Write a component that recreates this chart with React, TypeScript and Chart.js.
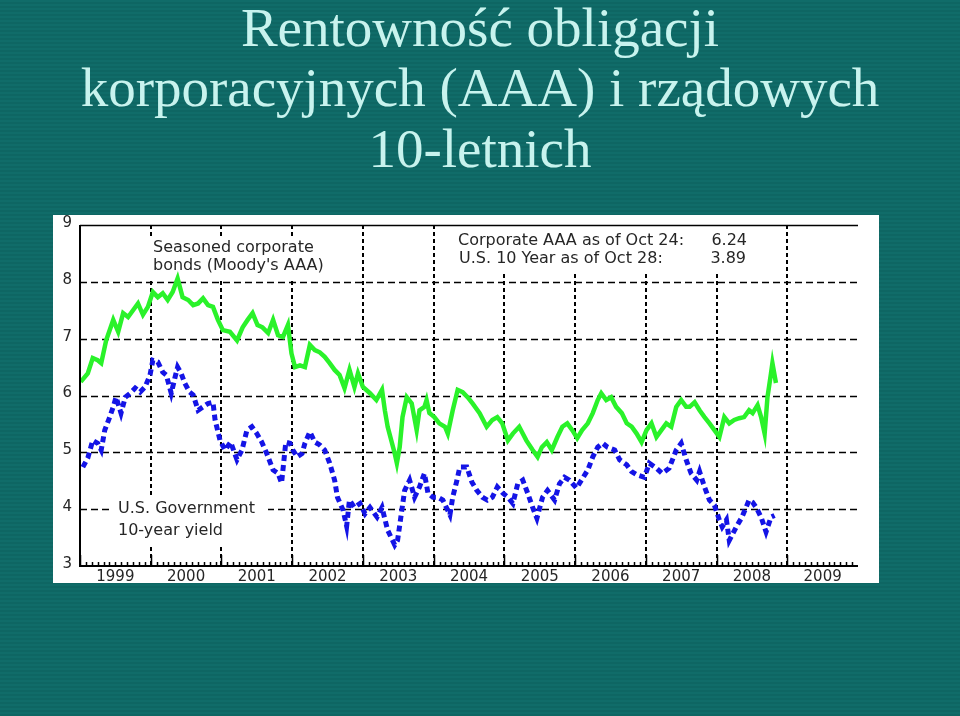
import React, { useEffect, useRef } from "react";
import { Chart, registerables } from "chart.js";

Chart.register(...registerables);

// ---- Text ----
const titleLines = ["Rentowność obligacji", "korporacyjnych (AAA) i rządowych", "10-letnich"];
const noteCorporate = ["Seasoned corporate", "bonds (Moody's AAA)"];
const noteGovernment = ["U.S. Government", "10-year yield"];
const noteLatestLabels = ["Corporate AAA as of Oct 24:", "U.S. 10 Year as of Oct 28:"];
const noteLatestValues = ["6.24", "3.89"];

// ---- Axes ----
const xYears = [1999, 2000, 2001, 2002, 2003, 2004, 2005, 2006, 2007, 2008, 2009];
const xMin = 1999;
const xMax = 2010;
const yTicks = [3, 4, 5, 6, 7, 8, 9];

// ---- Corporate AAA (Moody's), decimal year / percent ----
const aaaDates = [
  1999.01, 1999.11, 1999.18, 1999.25, 1999.3, 1999.37, 1999.47, 1999.54, 1999.61, 1999.68, 1999.75, 1999.82, 1999.89, 1999.96,
  2000.03, 2000.1, 2000.17, 2000.24, 2000.31, 2000.38, 2000.45, 2000.53, 2000.6, 2000.67, 2000.74, 2000.81, 2000.88, 2000.95,
  2001.02, 2001.12, 2001.22, 2001.3, 2001.37, 2001.44, 2001.51, 2001.58, 2001.66, 2001.73, 2001.8, 2001.87, 2001.94, 2001.99,
  2002.04, 2002.11, 2002.18, 2002.25, 2002.32, 2002.39, 2002.46, 2002.53, 2002.6, 2002.67, 2002.74, 2002.81, 2002.88, 2002.93, 2003.0,
  2003.1, 2003.19, 2003.27, 2003.31, 2003.35, 2003.45, 2003.48, 2003.52, 2003.56, 2003.62, 2003.69, 2003.76, 2003.8, 2003.87, 2003.9, 2003.94,
  2004.01, 2004.08, 2004.16, 2004.2, 2004.27, 2004.34, 2004.41, 2004.48, 2004.55, 2004.65, 2004.75, 2004.83, 2004.9, 2004.97,
  2005.05, 2005.12, 2005.21, 2005.31, 2005.4, 2005.47, 2005.53, 2005.6, 2005.67, 2005.75, 2005.82, 2005.89, 2005.96,
  2006.03, 2006.1, 2006.18, 2006.25, 2006.32, 2006.37, 2006.44, 2006.51, 2006.58, 2006.66, 2006.73, 2006.8, 2006.87, 2006.94, 2007.01,
  2007.08, 2007.15, 2007.22, 2007.29, 2007.36, 2007.43, 2007.5, 2007.57, 2007.62, 2007.69, 2007.76, 2007.83, 2007.9, 2007.97,
  2008.04, 2008.11, 2008.18, 2008.25, 2008.32, 2008.39, 2008.46, 2008.51, 2008.58, 2008.63, 2008.68, 2008.72, 2008.77, 2008.79, 2008.84,
];
const aaaValues = [
  6.24, 6.39, 6.66, 6.62, 6.57, 6.97, 7.33, 7.12, 7.45, 7.38, 7.5, 7.62, 7.42, 7.56,
  7.82, 7.73, 7.8, 7.68, 7.82, 8.06, 7.73, 7.68, 7.59, 7.62, 7.71, 7.59, 7.56, 7.33,
  7.15, 7.12, 6.97, 7.2, 7.33, 7.45, 7.24, 7.2, 7.1, 7.33, 7.06, 7.03, 7.24, 6.74,
  6.5, 6.53, 6.5, 6.89, 6.8, 6.76, 6.68, 6.57, 6.45, 6.36, 6.13, 6.45, 6.15, 6.39, 6.15,
  6.04, 5.92, 6.1, 5.74, 5.45, 4.98, 4.81, 5.09, 5.62, 5.97, 5.86, 5.39, 5.74, 5.8, 5.92, 5.69,
  5.62, 5.51, 5.45, 5.33, 5.74, 6.1, 6.06, 5.97, 5.86, 5.69, 5.45, 5.57, 5.62, 5.51,
  5.21, 5.33, 5.45, 5.21, 5.04, 4.92, 5.09, 5.18, 5.04, 5.27, 5.45, 5.51, 5.39,
  5.25, 5.39, 5.51, 5.69, 5.92, 6.04, 5.92, 5.97, 5.8, 5.69, 5.51, 5.45, 5.33, 5.18, 5.39,
  5.51, 5.27, 5.39, 5.51, 5.45, 5.8, 5.92, 5.8, 5.8, 5.88, 5.74, 5.62, 5.51, 5.39,
  5.27, 5.62, 5.51, 5.57, 5.6, 5.62, 5.74, 5.69, 5.83, 5.62, 5.33, 5.97, 6.39, 6.57, 6.22,
];

// ---- U.S. Government 10-year, decimal year / percent ----
const ustDates = [
  1999.04, 1999.11, 1999.18, 1999.25, 1999.3, 1999.35, 1999.42, 1999.47, 1999.51, 1999.58, 1999.64, 1999.71, 1999.78, 1999.85, 1999.92, 1999.99,
  2000.03, 2000.1, 2000.17, 2000.22, 2000.29, 2000.34, 2000.38, 2000.43, 2000.48, 2000.55, 2000.6, 2000.67, 2000.74, 2000.81, 2000.88, 2000.91, 2000.98,
  2001.05, 2001.13, 2001.22, 2001.29, 2001.36, 2001.43, 2001.5, 2001.57, 2001.64, 2001.73, 2001.8, 2001.85, 2001.91, 2001.97,
  2002.01, 2002.07, 2002.14, 2002.18, 2002.25, 2002.32, 2002.39, 2002.46, 2002.53, 2002.6, 2002.64, 2002.72, 2002.77, 2002.81, 2002.88, 2002.96,
  2003.03, 2003.1, 2003.2, 2003.27, 2003.35, 2003.45, 2003.49, 2003.55, 2003.59, 2003.66, 2003.73, 2003.8, 2003.87, 2003.92,
  2003.99, 2004.06, 2004.13, 2004.23, 2004.27, 2004.33, 2004.37, 2004.47, 2004.54, 2004.61, 2004.69, 2004.76, 2004.83, 2004.9, 2004.98,
  2005.05, 2005.12, 2005.19, 2005.26, 2005.33, 2005.4, 2005.46, 2005.54, 2005.61, 2005.71, 2005.78, 2005.85, 2005.92, 2006.02,
  2006.09, 2006.18, 2006.25, 2006.32, 2006.39, 2006.46, 2006.56, 2006.63, 2006.73, 2006.8, 2006.88, 2006.98,
  2007.05, 2007.15, 2007.23, 2007.33, 2007.43, 2007.5, 2007.57, 2007.64, 2007.72, 2007.76, 2007.83, 2007.9, 2007.97,
  2008.04, 2008.08, 2008.14, 2008.18, 2008.28, 2008.36, 2008.46, 2008.51, 2008.56, 2008.63, 2008.7, 2008.77, 2008.82,
];
const ustValues = [
  4.74, 4.9, 5.21, 5.16, 5.04, 5.39, 5.62, 5.8, 5.97, 5.69, 5.97, 6.04, 6.13, 6.06, 6.15, 6.36,
  6.62, 6.59, 6.41, 6.36, 6.04, 6.3, 6.5, 6.39, 6.22, 6.06, 6.01, 5.74, 5.8, 5.86, 5.88, 5.57, 5.21,
  5.04, 5.18, 4.87, 5.04, 5.39, 5.45, 5.33, 5.18, 4.98, 4.69, 4.63, 4.46, 5.18, 5.16,
  5.04, 4.92, 4.98, 5.16, 5.36, 5.18, 5.13, 5.04, 4.81, 4.51, 4.21, 3.98, 3.7, 4.16, 4.03, 4.1,
  3.92, 4.03, 3.86, 4.03, 3.63, 3.37, 3.45, 3.98, 4.33, 4.51, 4.21, 4.39, 4.63, 4.28,
  4.21, 4.21, 4.16, 3.9, 4.21, 4.51, 4.74, 4.74, 4.48, 4.33, 4.21, 4.16, 4.21, 4.39, 4.28,
  4.21, 4.1, 4.45, 4.51, 4.28, 4.03, 3.84, 4.21, 4.33, 4.16, 4.45, 4.56, 4.51, 4.37,
  4.51, 4.69, 4.92, 5.09, 5.16, 5.09, 5.04, 4.87, 4.78, 4.66, 4.6, 4.56,
  4.81, 4.72, 4.63, 4.72, 5.04, 5.16, 4.87, 4.63, 4.51, 4.66, 4.39, 4.16, 4.07,
  3.81, 3.69, 3.81, 3.45, 3.69, 3.86, 4.16, 4.12, 4.03, 3.86, 3.6, 3.86, 3.89,
];

const CHART_FONT = "'DejaVu Sans', Verdana, sans-serif";
const INK = "#262626";

const decorPlugin = {
  id: "decor",
  beforeDatasetsDraw(chart: any) {
    const { ctx, chartArea: a, scales } = chart;
    const x = scales.x;
    const y = scales.y;
    ctx.save();
    ctx.strokeStyle = "#000";
    ctx.lineWidth = 1.6;
    ctx.setLineDash([7, 4]);
    for (const v of yTicks) {
      if (v === yTicks[0] || v === yTicks[yTicks.length - 1]) continue;
      const py = Math.round(y.getPixelForValue(v)) + 0.5;
      ctx.beginPath();
      ctx.moveTo(a.left, py);
      ctx.lineTo(a.right, py);
      ctx.stroke();
    }
    ctx.lineWidth = 2;
    ctx.setLineDash([4, 3]);
    for (const yr of xYears) {
      if (yr === xMin) continue;
      const px = Math.round(x.getPixelForValue(yr));
      ctx.beginPath();
      ctx.moveTo(px, a.top);
      ctx.lineTo(px, a.bottom);
      ctx.stroke();
    }
    ctx.setLineDash([]);

    ctx.fillStyle = "#ffffff";
    ctx.fillRect(a.left + 65, a.top + 12, 195, 44);
    ctx.fillRect(a.left + 370, a.top + 1, 307, 46);
    ctx.fillRect(a.left + 33, a.top + 271, 155, 49);

    ctx.fillStyle = INK;
    ctx.font = `16px ${CHART_FONT}`;
    ctx.textAlign = "left";
    ctx.textBaseline = "alphabetic";
    ctx.fillText(noteCorporate[0], a.left + 73, a.top + 27);
    ctx.fillText(noteCorporate[1], a.left + 73, a.top + 45);
    ctx.fillText(noteGovernment[0], a.left + 38, a.top + 288);
    ctx.fillText(noteGovernment[1], a.left + 38, a.top + 310);
    ctx.fillText(noteLatestLabels[0], a.left + 378, a.top + 20);
    ctx.fillText(noteLatestLabels[1], a.left + 379, a.top + 38);
    ctx.textAlign = "right";
    ctx.fillText(noteLatestValues[0], a.left + 667, a.top + 20);
    ctx.fillText(noteLatestValues[1], a.left + 666, a.top + 38);
    ctx.restore();
  },
  afterDatasetsDraw(chart: any) {
    const { ctx, chartArea: a, scales } = chart;
    const x = scales.x;
    const y = scales.y;
    ctx.save();
    ctx.strokeStyle = "#000";
    ctx.lineWidth = 1.5;
    ctx.beginPath();
    ctx.moveTo(a.left, a.top + 0.5);
    ctx.lineTo(a.right, a.top + 0.5);
    ctx.stroke();
    ctx.lineWidth = 2;
    ctx.beginPath();
    ctx.moveTo(a.left, a.top);
    ctx.lineTo(a.left, a.bottom);
    ctx.lineTo(a.right, a.bottom);
    ctx.stroke();
    ctx.lineWidth = 1.5;
    for (const yr of xYears) {
      for (let m = 0; m < 12; m++) {
        const px = Math.round(x.getPixelForValue(yr + m / 12)) + 0.5;
        const len = m === 0 ? 11 : 4;
        ctx.beginPath();
        ctx.moveTo(px, a.bottom);
        ctx.lineTo(px, a.bottom - len);
        ctx.stroke();
      }
    }
    ctx.fillStyle = INK;
    ctx.font = `15px ${CHART_FONT}`;
    ctx.textAlign = "center";
    ctx.textBaseline = "alphabetic";
    for (const yr of xYears) {
      ctx.fillText(String(yr), x.getPixelForValue(yr + 0.5), a.bottom + 15);
    }
    ctx.textAlign = "right";
    ctx.textBaseline = "middle";
    for (const v of yTicks) {
      ctx.fillText(String(v), a.left - 8, y.getPixelForValue(v) - 2);
    }
    ctx.restore();
  },
};

function BondChart() {
  const ref = useRef<HTMLCanvasElement | null>(null);
  useEffect(() => {
    if (!ref.current) return;
    const chart = new Chart(ref.current, {
      type: "line",
      data: {
        datasets: [
          {
            label: "U.S. Government 10-year yield",
            data: ustDates.map((d, i) => ({ x: d, y: ustValues[i] })),
            borderColor: "#1414e6",
            borderWidth: 5,
            borderDash: [6, 4],
            pointRadius: 0,
            tension: 0,
            fill: false,
          },
          {
            label: "Seasoned corporate bonds (Moody's AAA)",
            data: aaaDates.map((d, i) => ({ x: d, y: aaaValues[i] })),
            borderColor: "#2af22a",
            borderWidth: 4.5,
            pointRadius: 0,
            tension: 0,
            fill: false,
            borderJoinStyle: "miter",
          },
        ],
      },
      options: {
        responsive: false,
        animation: false,
        devicePixelRatio: 1,
        layout: { padding: { left: 27, top: 10, right: 21, bottom: 17 } },
        plugins: { legend: { display: false }, tooltip: { enabled: false } },
        scales: {
          x: { type: "linear", min: xMin, max: xMax, display: false },
          y: { type: "linear", min: yTicks[0], max: yTicks[yTicks.length - 1], display: false },
        },
      },
      plugins: [decorPlugin],
    });
    return () => chart.destroy();
  }, []);
  return (
    <canvas
      ref={ref}
      width={826}
      height={368}
      style={{ position: "absolute", left: 53, top: 215, width: 826, height: 368, background: "#ffffff" }}
    />
  );
}

export default function App() {
  const tops = [0, 60, 121];
  return (
    <div
      style={{
        position: "absolute",
        left: 0,
        top: 0,
        width: 960,
        height: 716,
        overflow: "hidden",
        background:
          "repeating-linear-gradient(180deg, #106c69 0px, #106c69 2px, #0e6663 2px, #0e6663 4px)",
      }}
    >
      {titleLines.map((t, i) => (
        <div
          key={i}
          style={{
            position: "absolute",
            left: 0,
            width: 960,
            top: tops[i],
            textAlign: "center",
            fontFamily: "'Liberation Serif', 'Times New Roman', serif",
            fontSize: 55,
            lineHeight: "55px",
            color: "#c8f3ee",
            whiteSpace: "nowrap",
          }}
        >
          {t}
        </div>
      ))}
      <BondChart />
    </div>
  );
}
